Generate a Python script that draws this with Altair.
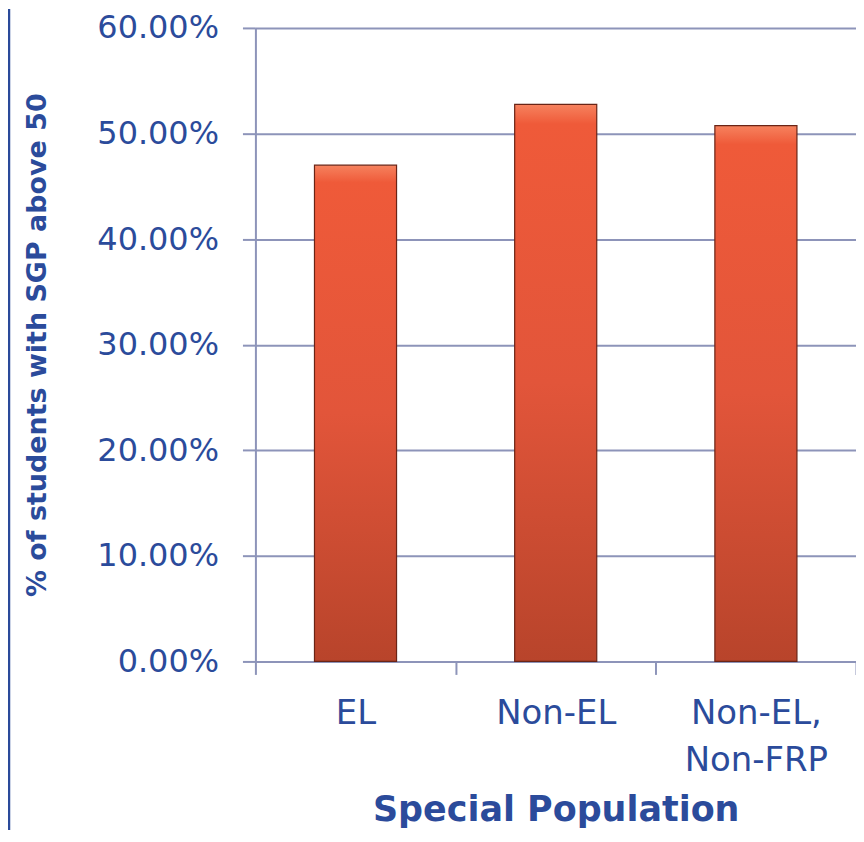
import altair as alt
import pandas as pd

categories = ["EL", "Non-EL", "Non-EL, Non-FRP"]
values = [0.470, 0.5275, 0.5075]

df = pd.DataFrame({"group": categories, "pct": values})

TEXT = "#2b4b9b"
GRID = "#8d94b9"
FONT = "DejaVu Sans"

grad = alt.Gradient(
    gradient="linear",
    x1=0, x2=0, y1=0, y2=1,
    stops=[
        alt.GradientStop(color="#f6825e", offset=0),
        alt.GradientStop(color="#ef5a39", offset=0.035),
        alt.GradientStop(color="#e2553a", offset=0.5),
        alt.GradientStop(color="#b8442b", offset=1),
    ],
)

bars = alt.Chart(df).mark_bar(
    color=grad, stroke="#6a2416", strokeWidth=1.2,
    width=alt.RelativeBandSize(0.41),
).encode(
    x=alt.X(
        "group:N",
        sort=categories,
        scale=alt.Scale(paddingInner=0, paddingOuter=0),
        axis=alt.Axis(
            title="Special Population",
            labelAngle=0,
            labelExpr="split(datum.label, ' ')",
            labelFontSize=34,
            labelFont=FONT,
            labelColor=TEXT,
            labelPadding=22,
            labelBaseline="top",
            labelLineHeight=47,
            tickBand="extent",
            tickSize=13,
            tickColor=GRID,
            tickWidth=2,
            domainColor=GRID,
            domainWidth=2,
            titleFont=FONT,
            titleFontSize=35,
            titleFontWeight="bold",
            titleColor=TEXT,
            titleY=159,
            titleBaseline="alphabetic",
            grid=False,
        ),
    ),
    y=alt.Y(
        "pct:Q",
        scale=alt.Scale(domain=[0, 0.6]),
        axis=alt.Axis(
            title="% of students with SGP above 50",
            format=".2%",
            values=[0, 0.1, 0.2, 0.3, 0.4, 0.5, 0.6],
            labelFontSize=32,
            labelFont=FONT,
            labelColor=TEXT,
            labelPadding=24,
            tickSize=13,
            tickColor=GRID,
            tickWidth=2,
            domainColor=GRID,
            domainWidth=2,
            gridColor=GRID,
            gridWidth=2,
            titleFont=FONT,
            titleFontSize=27,
            titleFontWeight="bold",
            titleColor=TEXT,
            titleX=-218,
            titleBaseline="middle",
        ),
    ),
)

border_df = pd.DataFrame({"b": [0]})
border = alt.Chart(border_df).mark_rule(color="#2a4a9a", strokeWidth=2.5).encode(
    x=alt.value(-247),
    y=alt.value(-19),
    y2=alt.value(806),
)

chart = alt.layer(bars, border).properties(
    width=602,
    height=635,
    autosize=alt.AutoSizeParams(type="none"),
    padding={"left": 248, "top": 19, "right": 0, "bottom": 168},
).configure_view(stroke=None)

chart.save("out.html", embed_options={"renderer": "svg", "actions": False})
